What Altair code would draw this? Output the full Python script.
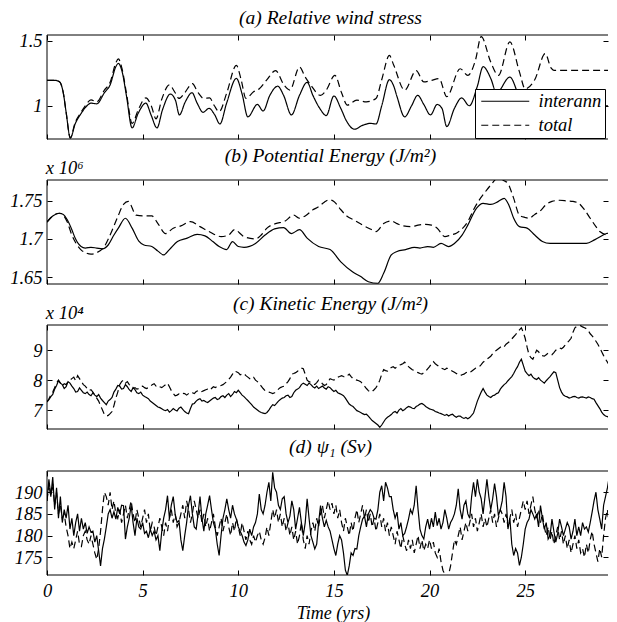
import altair as alt
import pandas as pd
import numpy as np

FONT = "Liberation Serif"
XMAX = 29.33
XTICKS = [0, 5, 10, 15, 20, 25]

# (a) relative wind stress: (time, value)
A_INTERANN = [(0, 1.195), (0.4, 1.195), (0.65, 1.185), (0.85, 1.1), (1.0, 0.95), (1.22, 0.752), (1.47, 0.86),
              (1.78, 0.94), (2.0, 0.985), (2.3, 1.02), (2.6, 1.015), (3.0, 1.1), (3.3, 1.16), (3.6, 1.3),
              (3.73, 1.325), (3.93, 1.26), (4.15, 1.08), (4.45, 0.83), (4.76, 0.94), (5.17, 1.02), (5.44, 0.93),
              (5.75, 0.83), (6.04, 0.97), (6.45, 1.09), (6.72, 1.04), (6.92, 0.93), (7.23, 1.03), (7.58, 1.10),
              (7.85, 1.02), (8.16, 0.95), (8.47, 0.98), (8.77, 0.93), (9.04, 0.86), (9.39, 1.02), (9.9, 1.21),
              (10.2, 1.09), (10.5, 0.915), (11.0, 1.01), (11.3, 0.96), (11.65, 1.08), (12.06, 1.15), (12.37, 1.08),
              (12.78, 0.93), (13.2, 1.08), (13.6, 1.18), (13.9, 1.08), (14.26, 0.98), (14.6, 0.925), (15.0, 1.075),
              (15.36, 0.98), (15.67, 0.88), (16.08, 0.82), (16.5, 0.85), (16.9, 0.865), (17.2, 0.86), (17.5, 1.0),
              (17.9, 1.2), (18.13, 1.15), (18.3, 1.07), (18.7, 0.915), (19.06, 1.0), (19.38, 1.08), (19.7, 1.01),
              (20.05, 0.93), (20.4, 1.01), (20.65, 0.98), (20.9, 0.84), (21.3, 0.98), (21.68, 1.06), (22.08, 1.0),
              (22.5, 1.15), (22.8, 1.3), (23.2, 1.21), (23.5, 1.1), (24.2, 1.22), (24.6, 1.1), (24.9, 0.98),
              (25.3, 1.05), (25.8, 0.95), (26.3, 1.05), (26.8, 1.0), (27.3, 1.02), (28.0, 1.0), (29.75, 1.0)]
A_TOTAL = [(0, 1.195), (0.4, 1.195), (0.65, 1.185), (0.85, 1.1), (1.0, 0.95), (1.22, 0.755), (1.47, 0.87),
           (1.78, 0.95), (2.0, 1.0), (2.3, 1.045), (2.6, 1.03), (3.0, 1.12), (3.3, 1.18), (3.6, 1.33), (3.73, 1.36),
           (3.93, 1.28), (4.15, 1.1), (4.45, 0.865), (4.8, 0.98), (5.17, 1.06), (5.45, 1.0), (5.7, 0.9), (6.0, 1.05),
           (6.4, 1.16), (6.7, 1.1), (6.9, 1.056), (7.2, 1.1), (7.6, 1.17), (7.9, 1.1), (8.2, 1.056), (8.5, 1.06),
           (8.75, 1.0), (9.0, 0.954), (9.4, 1.1), (9.9, 1.31), (10.15, 1.2), (10.4, 1.056), (10.8, 1.107),
           (11.1, 1.13), (11.5, 1.2), (11.95, 1.27), (12.4, 1.157), (12.7, 1.12), (13.2, 1.297), (13.5, 1.22),
           (13.8, 1.157), (14.3, 1.08), (14.6, 1.12), (15.05, 1.233), (15.4, 1.1), (15.7, 1.005), (16.2, 1.043),
           (16.7, 1.03), (17.2, 1.056), (17.5, 1.2), (17.9, 1.386), (18.13, 1.31), (18.7, 1.12), (19.3, 1.27),
           (19.7, 1.183), (20.1, 1.195), (20.5, 1.208), (20.9, 1.07), (21.6, 1.284), (22.0, 1.233), (22.4, 1.35),
           (22.7, 1.53), (23.2, 1.335), (23.6, 1.233), (24.2, 1.49), (24.7, 1.26), (25.0, 1.13), (25.5, 1.2),
           (26.05, 1.40), (26.35, 1.29), (26.5, 1.272), (29.75, 1.272)]

# (b) potential energy (x 10^6 J/m^2)
B_INTERANN = [(0, 1.722), (0.3, 1.73), (0.65, 1.7335), (0.85, 1.732), (1.06, 1.725), (1.3, 1.712), (1.47, 1.701),
              (1.78, 1.69), (2.0, 1.688), (2.3, 1.689), (2.6, 1.688), (2.9, 1.687), (3.2, 1.692), (3.5, 1.705),
              (3.73, 1.714), (4.1, 1.727), (4.45, 1.714), (4.8, 1.697), (5.07, 1.692), (5.48, 1.69), (5.8, 1.684),
              (6.1, 1.679), (6.4, 1.686), (6.82, 1.6965), (7.33, 1.701), (7.85, 1.706), (8.26, 1.704), (8.67, 1.6965),
              (9.0, 1.69), (9.39, 1.686), (9.7, 1.6965), (10.0, 1.69), (10.3, 1.689), (10.9, 1.694), (11.4, 1.705),
              (11.9, 1.713), (12.37, 1.7148), (12.78, 1.707), (13.2, 1.712), (13.6, 1.701), (14.2, 1.69),
              (14.8, 1.686), (15.36, 1.67), (15.97, 1.657), (16.38, 1.651), (16.8, 1.644), (17.3, 1.642),
              (17.6, 1.655), (18.0, 1.679), (18.3, 1.6835), (18.75, 1.686), (19.2, 1.689), (19.5, 1.688),
              (19.9, 1.69), (20.2, 1.689), (20.6, 1.694), (21.0, 1.69), (21.3, 1.694), (21.7, 1.705), (22.0, 1.718),
              (22.45, 1.74), (22.8, 1.7465), (23.2, 1.745), (23.6, 1.749), (23.9, 1.753), (24.15, 1.744),
              (24.4, 1.727), (24.7, 1.716), (25.1, 1.714), (25.5, 1.705), (25.9, 1.6965), (26.3, 1.694),
              (27.4, 1.694), (28.2, 1.694), (28.65, 1.699), (29.25, 1.707), (29.75, 1.7096)]
B_TOTAL = [(0, 1.722), (0.3, 1.73), (0.65, 1.7335), (0.85, 1.731), (1.06, 1.722), (1.3, 1.705), (1.5, 1.695),
           (1.78, 1.6857), (2.0, 1.682), (2.3, 1.68), (2.6, 1.682), (3.0, 1.69), (3.3, 1.705), (3.7, 1.729),
           (4.0, 1.745), (4.25, 1.749), (4.66, 1.731), (5.0, 1.73), (5.48, 1.73), (5.8, 1.72), (6.2, 1.707),
           (6.6, 1.714), (7.0, 1.717), (7.5, 1.7226), (8.0, 1.716), (8.47, 1.7096), (9.1, 1.703), (9.5, 1.705),
           (9.8, 1.712), (10.3, 1.703), (10.9, 1.70), (11.2, 1.705), (11.5, 1.714), (11.95, 1.72), (12.4, 1.7226),
           (12.9, 1.731), (13.2, 1.727), (13.5, 1.73), (13.9, 1.738), (14.2, 1.742), (14.5, 1.748), (14.75, 1.751),
           (15.0, 1.749), (15.3, 1.74), (15.67, 1.73), (16.1, 1.724), (16.5, 1.718), (16.9, 1.713), (17.2, 1.7096),
           (17.6, 1.72), (18.0, 1.7235), (18.3, 1.72), (18.55, 1.7174), (19.06, 1.716), (19.4, 1.718),
           (19.8, 1.719), (20.1, 1.718), (20.4, 1.714), (20.8, 1.703), (21.1, 1.705), (21.4, 1.7074), (21.7, 1.713),
           (22.0, 1.7226), (22.3, 1.738), (22.55, 1.749), (22.9, 1.761), (23.2, 1.7704), (23.6, 1.78),
           (23.9, 1.776), (24.1, 1.7726), (24.3, 1.76), (24.4, 1.753), (24.7, 1.731), (25.0, 1.728), (25.2, 1.727),
           (25.5, 1.732), (25.75, 1.7357), (26.1, 1.745), (26.4, 1.749), (26.8, 1.7505), (27.2, 1.7496),
           (27.5, 1.749), (27.8, 1.7465), (28.1, 1.738), (28.4, 1.727), (28.7, 1.716), (28.9, 1.7096),
           (29.35, 1.705), (29.75, 1.707)]

# (c) kinetic energy (x 10^4 J/m^2), sampled every 0.1 yr
C_TIME = [round(0.1 * i, 1) for i in range(299)]
C_INTERANN = [7.27, 7.35, 7.45, 7.52, 7.7, 7.82, 7.98, 7.9, 7.85, 7.72,
              7.78, 7.95, 7.9, 7.8, 7.72, 7.6, 7.62, 7.74, 7.66, 7.58,
              7.55, 7.6, 7.52, 7.48, 7.58, 7.5, 7.45, 7.52, 7.4, 7.32,
              7.25, 7.18, 7.3, 7.35, 7.42, 7.6, 7.7, 7.82, 7.8, 7.7,
              7.72, 7.85, 7.78, 7.68, 7.62, 7.75, 7.68, 7.58, 7.55, 7.6,
              7.5, 7.45, 7.42, 7.38, 7.3, 7.25, 7.2, 7.15, 7.1, 7.08,
              7.04, 7.0, 6.98, 7.02, 6.93, 6.98, 7.05, 7.0, 6.97, 7.06,
              7.1, 7.02, 6.95, 6.9, 6.88, 7.05, 7.2, 7.22, 7.3, 7.35,
              7.38, 7.3, 7.32, 7.28, 7.25, 7.3, 7.35, 7.4, 7.42, 7.35,
              7.38, 7.45, 7.48, 7.42, 7.5, 7.55, 7.45, 7.52, 7.62, 7.58,
              7.66, 7.58, 7.5, 7.45, 7.38, 7.32, 7.25, 7.18, 7.1, 7.05,
              7.0, 6.95, 6.92, 6.9, 6.88, 6.92, 7.0, 7.1, 7.18, 7.15,
              7.22, 7.3, 7.35, 7.4, 7.42, 7.48, 7.5, 7.42, 7.45, 7.58,
              7.66, 7.7, 7.75, 7.85, 7.9, 7.86, 7.82, 7.9, 7.85, 7.78,
              7.74, 7.8, 7.72, 7.76, 7.8, 7.74, 7.7, 7.78, 7.75, 7.68,
              7.62, 7.66, 7.58, 7.55, 7.52, 7.48, 7.4, 7.3, 7.2, 7.15,
              7.12, 7.05, 6.98, 6.95, 6.92, 6.88, 6.85, 6.86, 6.8, 6.72,
              6.65, 6.6, 6.55, 6.5, 6.42, 6.5, 6.6, 6.7, 6.76, 6.8,
              6.85, 6.92, 6.95, 6.9, 7.0, 7.05, 6.98, 7.02, 7.08, 7.12,
              7.1, 7.06, 7.05, 7.12, 7.15, 7.2, 7.22, 7.18, 7.12, 7.08,
              7.04, 7.02, 7.0, 6.95, 6.93, 6.9, 6.88, 6.85, 6.82, 6.85,
              6.8, 6.84, 6.86, 6.8, 6.76, 6.8, 6.8, 6.75, 6.72, 6.75,
              6.71, 6.75, 6.82, 6.9, 7.1, 7.3, 7.45, 7.6, 7.72, 7.6,
              7.5, 7.45, 7.42, 7.48, 7.5, 7.55, 7.58, 7.7, 7.78, 7.85,
              7.9, 7.98, 8.05, 8.12, 8.22, 8.35, 8.45, 8.6, 8.7, 8.5,
              8.3, 8.22, 8.15, 8.2, 8.1, 8.05, 8.02, 8.08, 8.0, 7.95,
              7.9, 7.98, 8.05, 8.12, 8.2, 8.28, 8.25, 8.0, 7.75, 7.6,
              7.5, 7.46, 7.44, 7.4, 7.42, 7.45, 7.46, 7.42, 7.4, 7.43,
              7.44, 7.42, 7.4, 7.44, 7.42, 7.38, 7.36, 7.25, 7.15, 7.05,
              6.93, 6.85, 6.8, 6.78, 6.75, 6.8, 6.88, 6.92, 6.99]
C_TOTAL = [7.27, 7.38, 7.5, 7.6, 7.75, 7.9, 8.0, 7.9, 7.8, 7.88,
           7.85, 7.95, 8.0, 8.05, 8.1, 7.98, 8.15, 8.05, 7.95, 7.85,
           7.8, 7.72, 7.65, 7.68, 7.6, 7.5, 7.4, 7.3, 7.15, 7.0,
           6.85, 6.8, 6.82, 6.88, 6.95, 7.15, 7.4, 7.6, 7.85, 7.95,
           8.0, 7.9, 7.95, 7.85, 7.8, 7.72, 7.75, 7.7, 7.72, 7.78,
           7.8, 7.75, 7.72, 7.75, 7.78, 7.85, 7.88, 7.8, 7.83, 7.78,
           7.75, 7.8, 7.85, 7.9, 7.78, 7.65, 7.55, 7.48, 7.5, 7.54,
           7.52, 7.56, 7.55, 7.5, 7.55, 7.6, 7.58, 7.55, 7.62, 7.65,
           7.6, 7.62, 7.65, 7.68, 7.7, 7.66, 7.72, 7.78, 7.75, 7.8,
           7.8, 7.82, 7.85, 7.9, 7.95, 8.02, 8.1, 8.2, 8.3, 8.28,
           8.25, 8.18, 8.2, 8.22, 8.15, 8.1, 8.05, 8.12, 8.1, 8.0,
           7.95, 7.88, 7.8, 7.72, 7.65, 7.62, 7.6, 7.58, 7.55, 7.58,
           7.62, 7.7, 7.75, 7.78, 7.8, 7.88, 7.95, 8.05, 8.2, 8.22,
           8.25, 8.3, 8.35, 8.4, 8.38, 8.2, 8.0, 7.95, 7.92, 7.88,
           7.85, 7.92, 8.0, 7.95, 7.88, 7.82, 7.85, 7.95, 8.05, 8.02,
           8.0, 8.05, 8.1, 8.12, 8.15, 8.12, 8.1, 8.15, 8.2, 8.12,
           8.05, 8.02, 8.0, 7.98, 7.95, 7.88, 7.8, 7.72, 7.65, 7.6,
           7.62, 7.68, 7.75, 7.85, 8.0, 8.2, 8.35, 8.32, 8.3, 8.38,
           8.42, 8.45, 8.4, 8.45, 8.5, 8.52, 8.55, 8.6, 8.52, 8.45,
           8.4, 8.35, 8.32, 8.28, 8.25, 8.22, 8.2, 8.25, 8.3, 8.38,
           8.45, 8.55, 8.62, 8.55, 8.5, 8.45, 8.4, 8.38, 8.35, 8.4,
           8.38, 8.34, 8.3, 8.26, 8.22, 8.18, 8.15, 8.18, 8.2, 8.25,
           8.28, 8.25, 8.3, 8.35, 8.4, 8.42, 8.45, 8.52, 8.6, 8.65,
           8.7, 8.75, 8.8, 8.88, 8.95, 9.0, 9.05, 9.1, 9.15, 9.12,
           9.2, 9.25, 9.3, 9.38, 9.45, 9.52, 9.6, 9.68, 9.75, 9.6,
           9.4, 9.1, 8.85, 8.75, 8.7, 8.85, 9.0, 8.95, 8.85, 8.82,
           8.8, 8.85, 8.9, 8.88, 8.85, 8.92, 9.0, 9.05, 9.08, 9.05,
           9.1, 9.18, 9.25, 9.32, 9.4, 9.6, 9.75, 9.8, 9.8, 9.82,
           9.78, 9.75, 9.72, 9.65, 9.55, 9.48, 9.4, 9.3, 9.2, 9.08,
           8.95, 8.82, 8.7, 8.6, 8.5, 8.45, 8.38, 8.32, 8.28]

# (d) psi_1 (Sv), sampled every 0.1 yr
D_TIME = [round(0.1 * i, 1) for i in range(299)]
D_INTERANN = [188, 193, 189, 193.5, 186, 191, 184, 189, 183, 186,
              184, 187, 181.5, 184, 180, 183, 185, 181, 184, 181.5,
              183, 180.5, 182, 180.8, 181, 178.5, 180, 176.5, 173, 177,
              179.2, 182, 185, 186, 184, 185.5, 183.8, 186.5, 185, 187,
              186.9, 179.2, 182, 184, 187, 183, 180, 184, 182, 181.5,
              183, 180.5, 181, 179.5, 181.5, 180, 181, 179, 180, 176.5,
              181, 184, 186, 189.2, 184, 187, 189, 185, 183, 183.5,
              179, 176.5, 180, 183, 187, 189.2, 185, 182, 181.5, 185,
              189, 184, 181, 185, 187, 189.2, 186, 183, 181.5, 178,
              175.4, 180, 184, 186, 188.5, 186, 184, 187, 185, 183.8,
              182, 181, 180, 178.5, 177.7, 179, 181.5, 180, 182, 183,
              185, 189.6, 186, 185, 187, 190, 192.3, 188, 194.6, 191,
              190, 187, 186, 188.5, 189, 185, 183, 184.5, 188, 186,
              181.5, 184, 186.5, 183, 180, 183, 188.5, 184, 180, 178.5,
              176.9, 178, 183, 186.9, 184, 182, 183.5, 182, 181, 179,
              177, 175.4, 178, 180, 179, 176, 172, 170.8, 173, 176,
              175.4, 177, 176.9, 180, 182, 183.8, 184.5, 182, 185, 186,
              185.4, 184, 183.8, 186, 190, 191.5, 188, 192.3, 191, 189,
              189, 186, 184, 185.4, 181.5, 183, 180, 180.5, 182, 183.8,
              186, 185, 187, 191.5, 186, 181.5, 180, 179.2, 182, 183.8,
              181.5, 184, 182, 185.4, 182.3, 184, 181.5, 183, 186, 184,
              181.5, 183, 183.8, 185, 187, 190.8, 186, 183.8, 187, 188,
              185, 184, 189, 192.3, 189, 193, 190, 188.5, 185, 189,
              193, 189, 186, 188.5, 192, 189, 184.6, 186, 188, 192.3,
              189, 181.5, 184, 178, 175.4, 177, 176, 173.1, 175, 178,
              181.5, 183, 183.8, 186, 185, 183.8, 185, 182, 186.9, 184,
              181.5, 183, 179.2, 180, 183.8, 181, 178.5, 180.5, 183.8, 182,
              180, 181.5, 183, 182, 179.2, 181, 183.8, 180, 182, 180,
              183, 181.5, 182, 180.8, 183, 185.4, 188, 190, 186, 183.8,
              181.5, 187, 189, 191, 193.8, 188, 184, 186, 187.7]
D_TOTAL = [188, 192, 189, 192, 187, 190, 185, 187, 184, 185,
           182, 180, 177, 178.5, 177, 179, 181, 178, 177.5, 180,
           181, 179, 178, 180, 178, 176, 174.5, 177, 181, 186,
           190, 189, 187, 190, 186, 188, 185, 184, 186, 183,
           185, 187, 184, 186, 188, 185, 183, 186, 184, 182,
           184, 186, 183, 185, 181, 183, 182, 180, 182, 184,
           182, 180, 183, 181, 184, 186, 183, 185, 182, 183,
           185, 187, 184, 188, 186, 183, 185, 188, 186, 184,
           186, 183, 185, 182, 184, 181, 183, 185, 182, 180,
           182, 184, 181, 183, 185, 182, 180, 183, 181, 184,
           182, 180, 183, 181, 179, 181, 179, 178, 180, 178.5,
           180, 181, 179, 178, 179.5, 182, 180, 183, 186, 184,
           186, 183, 185, 182, 184, 181, 183, 180, 182, 179,
           181, 178, 180, 183, 179, 177, 180, 178, 181, 183,
           181, 184, 182, 185, 187, 184, 186, 188, 186, 187.5,
           185, 187, 184, 186, 183, 181, 184, 182, 180, 183,
           181, 184, 186, 183, 185, 187, 184, 186, 183, 185,
           182, 184, 181, 183, 185, 182, 184, 181, 183, 180,
           182, 180, 178, 181, 179, 177, 180, 178, 176.5, 179,
           177, 179, 176, 178, 180, 177, 179, 176.5, 178, 177,
           179, 177, 178.5, 176, 175, 177, 174, 172, 171, 170,
           171, 173, 176, 179, 178, 180, 182, 179, 181, 183,
           181, 183, 185, 182, 184, 181, 183, 185, 182, 184,
           182, 184, 186, 183, 185, 182, 184, 186, 185, 183,
           185, 182, 184, 186, 183, 185, 182, 184, 186, 188,
           186, 188, 185, 187, 189, 186, 184, 186, 183, 185,
           182, 180, 182, 179, 181, 178, 180, 182, 179, 181,
           178, 180, 177, 179, 176, 178, 180, 177, 179, 176,
           177, 175, 178, 176, 179, 181, 178, 176, 174, 177,
           175, 180, 184, 186, 182, 178, 175, 179, 183]

SERIES = ["interann", "total"]
DASH = [7, 4]
W, H = 561, 104
TICK_FS = 18.5
TITLE_FS = 19.5


def panel(int_t, int_v, tot_t, tot_v, ydom, yvals, title, ytitle=None, last=False,
          legend=False, toff=11, interp="linear"):
    d1 = pd.DataFrame({"t": int_t, "v": int_v, "series": "interann"})
    d2 = pd.DataFrame({"t": tot_t, "v": tot_v, "series": "total"})
    xs = alt.Scale(domain=[0, XMAX], nice=False, zero=False)
    ys = alt.Scale(domain=ydom, nice=False, zero=False)

    xb_kw = dict(orient="bottom", offset=-5, tickSize=5, domain=False, grid=False,
                 values=XTICKS, labels=last, labelFlush=False, labelPadding=6)
    if last:
        xb_kw.update(title="Time (yrs)", titlePadding=5, titleFontSize=18, titleX=286)
    else:
        xb_kw.update(title=None)
    yl_kw = dict(orient="left", offset=-5, tickSize=5, domain=False, grid=False,
                 values=yvals, format="~g", labelPadding=5, labelOverlap=False)
    if ytitle:
        yl_kw.update(title=ytitle, titleAngle=0, titleAlign="left", titleBaseline="alphabetic",
                     titleX=-6.7, titleY=-7, titleFontSize=TICK_FS)
    else:
        yl_kw.update(title=None)

    x_top = alt.Axis(orient="top", offset=-5, tickSize=5, domain=False, grid=False,
                     values=XTICKS, labels=False, title=None)
    y_right = alt.Axis(orient="right", offset=-5, tickSize=5, domain=False, grid=False,
                       values=yvals, labels=False, title=None)

    if legend:
        dash_enc = alt.StrokeDash(
            "series:N",
            scale=alt.Scale(domain=SERIES, range=[[1, 0], DASH]),
            legend=alt.Legend(orient="none", legendX=428, legendY=54, title=None,
                              fillColor="white", strokeColor="black", padding=3,
                              symbolType="M-1,0H7", symbolSize=144, symbolStrokeWidth=1.2,
                              symbolStrokeColor="black", labelFont=FONT, labelFontStyle="italic",
                              labelFontSize=TICK_FS, labelColor="black", labelOffset=42, rowPadding=5),
        )
        l1 = alt.Chart(d1).mark_line(color="black", strokeWidth=1.2, clip=True, interpolate=interp).encode(
            x=alt.X("t:Q", scale=xs, axis=alt.Axis(**xb_kw)),
            y=alt.Y("v:Q", scale=ys, axis=alt.Axis(**yl_kw)),
            strokeDash=dash_enc,
        )
        l2 = alt.Chart(d2).mark_line(color="black", strokeWidth=1.2, clip=True, interpolate=interp).encode(
            x=alt.X("t:Q", scale=xs, axis=x_top),
            y=alt.Y("v:Q", scale=ys, axis=y_right),
            strokeDash=dash_enc,
        )
    else:
        l1 = alt.Chart(d1).mark_line(color="black", strokeWidth=1.2, clip=True, interpolate=interp).encode(
            x=alt.X("t:Q", scale=xs, axis=alt.Axis(**xb_kw)),
            y=alt.Y("v:Q", scale=ys, axis=alt.Axis(**yl_kw)),
        )
        l2 = alt.Chart(d2).mark_line(color="black", strokeWidth=1.2, strokeDash=DASH, clip=True,
                                     interpolate=interp).encode(
            x=alt.X("t:Q", scale=xs, axis=x_top),
            y=alt.Y("v:Q", scale=ys, axis=y_right),
        )

    top = alt.Chart(pd.DataFrame({"y": [ydom[1]]})).mark_rule(color="black", strokeWidth=1).encode(
        y=alt.Y("y:Q", scale=ys, axis=None))
    bot = alt.Chart(pd.DataFrame({"y": [ydom[0]]})).mark_rule(color="black", strokeWidth=1).encode(
        y=alt.Y("y:Q", scale=ys, axis=None))
    left = alt.Chart(pd.DataFrame({"x": [0]})).mark_rule(color="black", strokeWidth=1).encode(
        x=alt.X("x:Q", scale=xs, axis=None))

    return alt.layer(l1, l2, top, bot, left).resolve_axis(x="independent", y="independent").properties(
        width=W, height=H,
        title=alt.TitleParams(title, font=FONT, fontStyle="italic", fontWeight="normal", fontSize=TITLE_FS,
                              color="black", anchor="middle", frame="group", offset=toff, dx=3),
    )


a_t, a_v = zip(*A_INTERANN)
at_t, at_v = zip(*A_TOTAL)
b_t, b_v = zip(*B_INTERANN)
bt_t, bt_v = zip(*B_TOTAL)

pa = panel(list(a_t), list(a_v), list(at_t), list(at_v), [0.745, 1.543], [1, 1.5],
           "(a) Relative wind stress", legend=True, toff=3.5, interp="monotone")
pb = panel(list(b_t), list(b_v), list(bt_t), list(bt_v), [1.641, 1.777], [1.65, 1.7, 1.75],
           "(b) Potential Energy (J/m²)", ytitle="x 10⁶", toff=-8.5, interp="monotone")
pc = panel(C_TIME, C_INTERANN, C_TIME, C_TOTAL, [6.367, 9.843], [7, 8, 9],
           "(c) Kinetic Energy (J/m²)", ytitle="x 10⁴", toff=-11)
pd_ = panel(D_TIME, D_INTERANN, D_TIME, D_TOTAL, [170.9, 194.9], [175, 180, 185, 190],
            "(d) ψ₁ (Sv)", last=True, toff=13.5)

chart = alt.vconcat(pa, pb, pc, pd_, spacing=6).properties(
    padding={"left": 1, "top": -1, "right": 0, "bottom": 0}
).configure_view(stroke=None).configure_axis(
    labelFont=FONT, labelFontStyle="italic", labelFontSize=TICK_FS, labelColor="black",
    titleFont=FONT, titleFontStyle="italic", titleFontSize=TICK_FS, titleFontWeight="normal", titleColor="black",
    tickColor="black", tickWidth=1,
)

chart.save("out.html", embed_options={"renderer": "svg", "actions": False})
